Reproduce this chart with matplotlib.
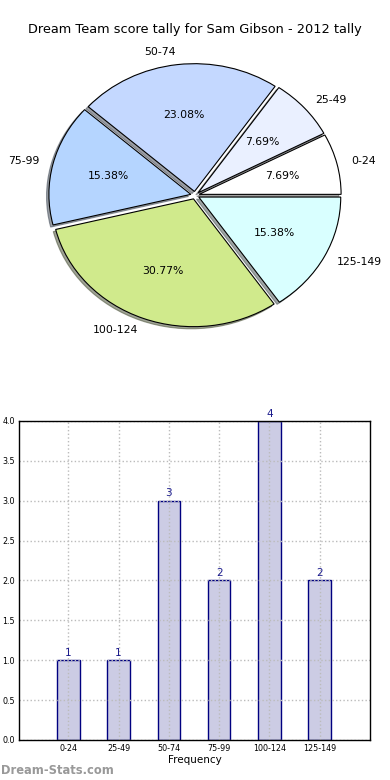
import numpy as np
import matplotlib
matplotlib.use('Agg')
import matplotlib.pyplot as plt

# score bands and how many weeks fell in each
bands = ['0-24', '25-49', '50-74', '75-99', '100-124', '125-149']
counts = [1, 1, 3, 2, 4, 2]
slice_colors = ['#ffffff', '#eaf0ff', '#c4d8ff', '#b5d5ff', '#d0ea8c', '#d9ffff']
title = 'Dream Team score tally for Sam Gibson - 2012 tally'

fig = plt.figure(figsize=(3.9, 7.8), dpi=100)
fig.patch.set_facecolor('white')

# --- pie (old style, not forced to equal aspect)
ax1 = fig.add_axes([0.045, 0.5432, 0.910, 0.4096])
ax1.pie(counts, labels=bands, colors=slice_colors, explode=[0.03] * len(counts),
        autopct='%1.2f%%', shadow={'ox': -0.012, 'oy': -0.012}, startangle=0,
        wedgeprops=dict(edgecolor='black', linewidth=0.8),
        textprops=dict(fontsize=7.8))
ax1.set_aspect('auto')
ax1.set_xlim(-1.25, 1.25)
ax1.set_ylim(-1.26, 1.24)
ax1.axis('off')

fig.text(0.5, 1 - 30 / 780, title, ha='center', va='center', fontsize=9.3)

# --- bar chart
ax2 = fig.add_axes([0.0487, 0.0513, 0.9, 0.409])
ind = np.arange(len(bands))
bars = ax2.bar(ind, counts, width=0.45, color='#ccccE4', edgecolor='#000080', linewidth=1)
for b, c in zip(bars, counts):
    ax2.text(b.get_x() + b.get_width() / 2, c + 0.03, str(c), ha='center', va='bottom',
             color='#1a1a8c', fontsize=7.5)

ax2.set_xlim(-0.98, 6.0)
ax2.set_ylim(0, 4)
ax2.set_xticks(ind)
ax2.set_xticklabels(bands)
ax2.set_yticks(np.arange(0, 4.01, 0.5))
ax2.tick_params(labelsize=5.8, length=0, pad=3)
ax2.set_axisbelow(False)
ax2.grid(True, linestyle=':', color='#bbbbbb', linewidth=1, zorder=2.4)
for s in ax2.spines.values():
    s.set_linewidth(1)
    s.set_zorder(3)
ax2.set_xlabel('Frequency', fontsize=7.5, labelpad=1)

fig.text(0.002, 1 - 770 / 780, 'Dream-Stats.com', ha='left', va='center',
         fontsize=8.3, color='#999999', fontweight='bold')

fig.savefig('out.png', dpi=100)
